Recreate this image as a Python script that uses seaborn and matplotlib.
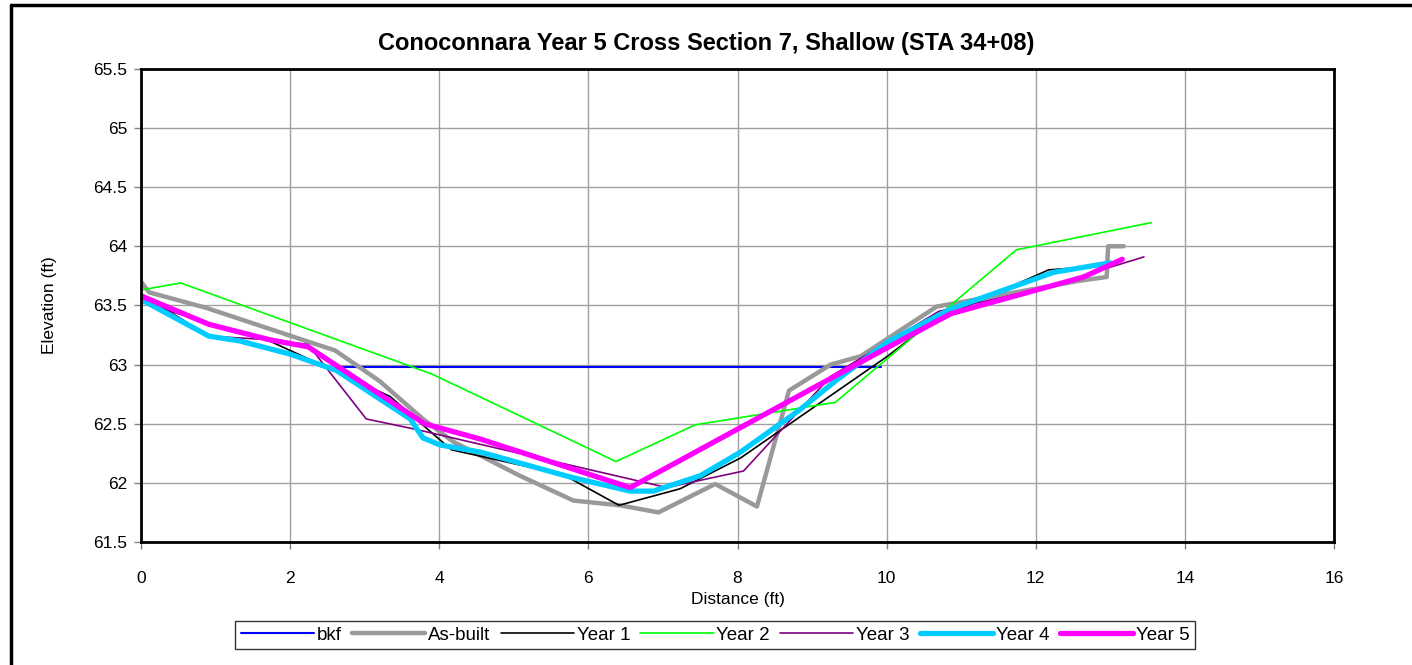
import numpy as np
import pandas as pd
import matplotlib
matplotlib.use("Agg")
import matplotlib.pyplot as plt
from matplotlib.lines import Line2D
import seaborn as sns

# Cross-section survey data: distance (ft) and elevation (ft)
bkf_x = [2.62, 9.92]
bkf_y = [62.98, 62.98]

asbuilt_x = [0.0, 0.11, 0.87, 2.21, 2.60, 3.20, 3.78, 4.18, 5.08, 5.80, 6.42, 6.94,
             7.70, 8.26, 8.69, 9.25, 9.65, 10.67, 12.60, 12.95, 12.97, 13.18]
asbuilt_y = [63.70, 63.61, 63.48, 63.20, 63.12, 62.86, 62.54, 62.35, 62.06, 61.85, 61.81, 61.75,
             61.99, 61.80, 62.78, 63.00, 63.07, 63.49, 63.71, 63.74, 64.00, 64.00]

year1_x = [0.0, 0.91, 1.72, 3.34, 4.16, 5.66, 6.41, 7.23, 8.04, 10.01, 10.63, 12.17, 13.0]
year1_y = [63.53, 63.35, 63.20, 62.73, 62.28, 62.07, 61.81, 61.95, 62.21, 63.07, 63.37, 63.80, 63.84]

year2_x = [0.0, 0.53, 3.90, 6.37, 7.43, 9.31, 11.74, 13.55]
year2_y = [63.63, 63.69, 62.92, 62.18, 62.49, 62.68, 63.97, 64.20]

year3_x = [0.0, 0.91, 1.72, 2.24, 3.02, 3.70, 7.05, 8.08, 9.25, 10.70, 12.0, 13.45]
year3_y = [63.60, 63.24, 63.21, 63.17, 62.54, 62.45, 61.96, 62.10, 62.90, 63.45, 63.63, 63.91]

year4_x = [0.0, 0.91, 1.32, 1.99, 2.62, 3.61, 3.78, 4.01, 4.55, 5.75, 6.56, 6.87,
           7.50, 8.04, 8.84, 9.29, 10.01, 10.86, 12.24, 13.0]
year4_y = [63.55, 63.24, 63.20, 63.09, 62.95, 62.54, 62.38, 62.32, 62.26, 62.05, 61.93, 61.93,
           62.06, 62.26, 62.62, 62.85, 63.19, 63.47, 63.78, 63.86]

year5_x = [0.0, 0.91, 1.72, 2.24, 3.80, 4.55, 6.56, 10.0, 10.86, 12.64, 13.16]
year5_y = [63.58, 63.34, 63.21, 63.15, 62.50, 62.37, 61.96, 63.14, 63.43, 63.74, 63.89]

x_ticks = list(range(0, 17, 2))
y_ticks = [61.5, 62, 62.5, 63, 63.5, 64, 64.5, 65, 65.5]

series = [
    ("bkf", bkf_x, bkf_y, "#0000FF", 1.5),
    ("As-built", asbuilt_x, asbuilt_y, "#999999", 3.2),
    ("Year 1", year1_x, year1_y, "#000000", 1.2),
    ("Year 2", year2_x, year2_y, "#00FF00", 1.2),
    ("Year 3", year3_x, year3_y, "#800080", 1.2),
    ("Year 4", year4_x, year4_y, "#00CCFF", 3.8),
    ("Year 5", year5_x, year5_y, "#FF00FF", 3.8),
]

sns.set_theme(style="white")
plt.rcParams["font.family"] = ["Liberation Sans", "DejaVu Sans"]
plt.rcParams["text.color"] = "black"
plt.rcParams["axes.labelcolor"] = "black"

fig = plt.figure(figsize=(14.12, 6.65), dpi=100)
ax = fig.add_axes([0.0999, 0.185, 0.8449, 0.7115])

for name, xs, ys, color, lw in series:
    df = pd.DataFrame({"Distance": xs, "Elevation": ys})
    sns.lineplot(data=df, x="Distance", y="Elevation", ax=ax, sort=False,
                 estimator=None, color=color, linewidth=lw, label=name)

ax.set_xlim(0, 16)
ax.set_ylim(61.5, 65.5)
ax.set_xticks(x_ticks)
ax.set_yticks(y_ticks)
ax.set_xticklabels([f"{t:g}" for t in x_ticks])
ax.set_yticklabels([f"{t:g}" for t in y_ticks])
ax.grid(True, color="#A0A0A0", linewidth=1.0)
ax.set_axisbelow(True)
for sp in ax.spines.values():
    sp.set_color("black")
    sp.set_linewidth(2.0)
ax.tick_params(axis="both", direction="out", length=5, width=1, color="#808080",
               labelsize=12.5, labelcolor="black", bottom=True, left=True)
ax.tick_params(axis="x", pad=16)
ax.tick_params(axis="y", pad=5)

ax.set_xlabel("Distance (ft)", fontsize=12.5, labelpad=4, color="black")
ax.set_ylabel("Elevation (ft)", fontsize=12.5, labelpad=26, color="black")

# Chart title centred on the whole figure
fig.text(0.5, 0.935, "Conoconnara Year 5 Cross Section 7, Shallow (STA 34+08)",
         ha="center", va="center", fontsize=17, fontweight="bold", color="black")

ax.get_legend().remove()
handles = [Line2D([0], [0], color=c, linewidth=lw) for _, _, _, c, lw in series]
labels = [s[0] for s in series]
leg = fig.legend(handles, labels, loc="center", bbox_to_anchor=(0.5065, 0.045),
                 ncol=7, frameon=True, fontsize=13.5, handlelength=3.9,
                 handletextpad=0.15, columnspacing=0.55, borderpad=0.3,
                 fancybox=False, edgecolor="black")
leg.get_frame().set_linewidth(1.0)
for t in leg.get_texts():
    t.set_color("black")

# Outer chart border (left and top edges)
fig.add_artist(Line2D([0.0075, 0.0075], [0.0, 0.9925], transform=fig.transFigure,
                      color="black", linewidth=2.5))
fig.add_artist(Line2D([0.0075, 1.0], [0.9925, 0.9925], transform=fig.transFigure,
                      color="black", linewidth=2.5))

fig.savefig("out.png", dpi=100)
